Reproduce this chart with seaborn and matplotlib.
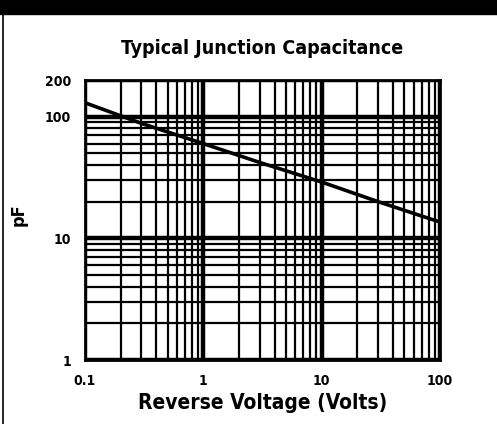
import numpy as np
import pandas as pd
import matplotlib
matplotlib.use("Agg")
import matplotlib.pyplot as plt
import matplotlib.font_manager as fm
import seaborn as sns

# curve
voltage = [0.1, 0.3, 1, 3, 10, 30, 100]
cap_pf = [130, 88, 60, 42, 29, 20, 13.6]
x_ticks = [0.1, 1, 10, 100]
x_tick_labels = ["0.1", "1", "10", "100"]
y_ticks = [1, 10, 100, 200]
y_tick_labels = ["1", "10", "100", "200"]

df = pd.DataFrame({"V": voltage, "C": cap_pf})

sns.set_style("white")
names = {f.name for f in fm.fontManager.ttflist}
if "Liberation Sans Narrow" in names:
    fam = "Liberation Sans Narrow"
else:
    fam = "DejaVu Sans"
plt.rcParams["font.family"] = [fam, "DejaVu Sans"]
plt.rcParams["font.stretch"] = "condensed"
plt.rcParams["font.weight"] = "bold"
for k in ["text.color", "axes.labelcolor", "xtick.color", "ytick.color"]:
    plt.rcParams[k] = "black"

fig = plt.figure(figsize=(4.97, 4.24), dpi=100)
ax = fig.add_axes([85 / 497, 1 - 360 / 424, 355 / 497, 280 / 424])

sns.lineplot(data=df, x="V", y="C", ax=ax, color="black", lw=2.6)
ax.set_xscale("log")
ax.set_yscale("log")
ax.set_xlim(0.1, 100)
ax.set_ylim(1, 200)

ax.grid(which="major", color="black", lw=3.2)
ax.grid(which="minor", color="black", lw=1.6)
ax.set_axisbelow(True)
for s in ax.spines.values():
    s.set_linewidth(2)
    s.set_color("black")

ax.set_xticks(x_ticks)
ax.set_xticklabels(x_tick_labels)
ax.set_yticks(y_ticks)
ax.set_yticklabels(y_tick_labels)
ax.tick_params(which="both", length=0, labelsize=10, pad=10)
for lab in ax.get_xticklabels() + ax.get_yticklabels():
    lab.set_fontweight("heavy")

ax.set_xlabel("Reverse Voltage (Volts)", fontsize=15, fontweight="heavy", labelpad=4)
ax.set_ylabel("pF", fontsize=13, fontweight="heavy")
ax.yaxis.set_label_coords(-57 / 355, 0.52)
ax.set_title("Typical Junction Capacitance", fontsize=14, fontweight="heavy", pad=19)

# scan border: black band on top, thin rule on the left
fig.patches.append(plt.Rectangle((0, 1 - 14 / 424), 1, 14 / 424, transform=fig.transFigure,
                                 color="black", zorder=5))
fig.lines.append(plt.Line2D([3 / 497, 3 / 497], [0, 1 - 14 / 424], transform=fig.transFigure,
                            color="black", lw=1.2))

fig.savefig("out.png", dpi=100)
